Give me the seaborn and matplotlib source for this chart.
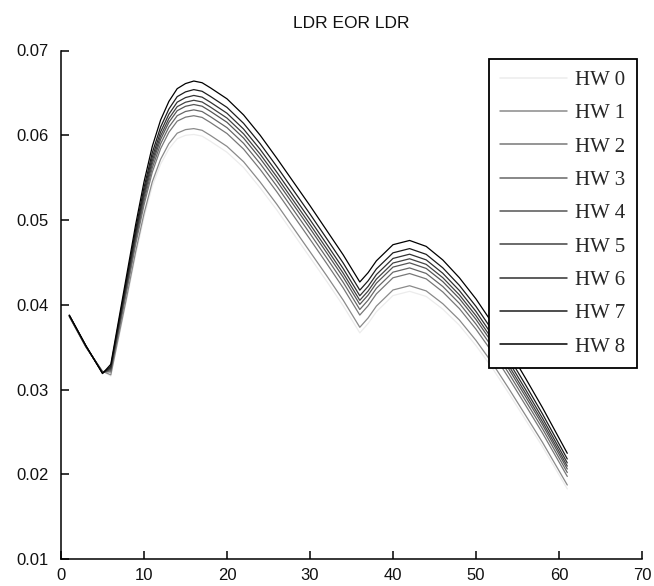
import matplotlib
matplotlib.use("Agg")
import matplotlib.pyplot as plt
import seaborn as sns
import pandas as pd

x_vals = [1, 3, 5, 6, 7, 8, 9, 10, 11, 12, 13, 14, 15, 16, 17, 18, 20, 22, 24, 26, 28, 30,
          32, 34, 36, 37, 38, 40, 42, 44, 46, 48, 50, 52, 54, 56, 58, 61]

hw0 = [0.0386, 0.0350, 0.0322, 0.0316, 0.0363, 0.0410, 0.0459, 0.0503, 0.0540, 0.0566,
       0.0584, 0.0596, 0.0600, 0.0601, 0.0599, 0.0593, 0.0580, 0.0562, 0.0538, 0.0512, 0.0484, 0.0456,
       0.0428, 0.0399, 0.0367, 0.0378, 0.0392, 0.0411, 0.0416, 0.0410, 0.0395, 0.0376,
       0.0352, 0.0325, 0.0295, 0.0264, 0.0233, 0.0183]
hw1 = [0.03862, 0.03502, 0.03217, 0.03175, 0.03654, 0.04133, 0.04630, 0.05076, 0.05452, 0.05717,
       0.05902, 0.06025, 0.06067, 0.06079, 0.06059, 0.05999, 0.05869, 0.05688, 0.05448, 0.05187, 0.04907, 0.04627,
       0.04346, 0.04056, 0.03736, 0.03846, 0.03986, 0.04176, 0.04226, 0.04165, 0.04014, 0.03822,
       0.03581, 0.03308, 0.03006, 0.02694, 0.02381, 0.01876]
hw2 = [0.03867, 0.03507, 0.03210, 0.03209, 0.03707, 0.04205, 0.04716, 0.05177, 0.05565, 0.05842,
       0.06036, 0.06167, 0.06214, 0.06231, 0.06211, 0.06151, 0.06021, 0.05837, 0.05597, 0.05334, 0.05054, 0.04774,
       0.04490, 0.04200, 0.03880, 0.03990, 0.04130, 0.04320, 0.04370, 0.04307, 0.04153, 0.03956,
       0.03713, 0.03436, 0.03129, 0.02812, 0.02491, 0.01977]
hw3 = [0.03869, 0.03509, 0.03206, 0.03224, 0.03731, 0.04238, 0.04756, 0.05223, 0.05616, 0.05899,
       0.06098, 0.06231, 0.06281, 0.06300, 0.06280, 0.06220, 0.06090, 0.05905, 0.05665, 0.05401, 0.05121, 0.04841,
       0.04556, 0.04266, 0.03946, 0.04056, 0.04196, 0.04386, 0.04436, 0.04371, 0.04217, 0.04018,
       0.03773, 0.03494, 0.03185, 0.02865, 0.02542, 0.02023]
hw4 = [0.03871, 0.03511, 0.03203, 0.03238, 0.03753, 0.04268, 0.04792, 0.05265, 0.05663, 0.05951,
       0.06154, 0.06290, 0.06342, 0.06363, 0.06343, 0.06283, 0.06153, 0.05967, 0.05727, 0.05462, 0.05182, 0.04902,
       0.04616, 0.04326, 0.04006, 0.04116, 0.04256, 0.04446, 0.04496, 0.04430, 0.04275, 0.04074,
       0.03828, 0.03547, 0.03236, 0.02914, 0.02588, 0.02065]
hw5 = [0.03873, 0.03513, 0.03201, 0.03250, 0.03771, 0.04292, 0.04820, 0.05299, 0.05701, 0.05993,
       0.06198, 0.06338, 0.06390, 0.06413, 0.06393, 0.06333, 0.06203, 0.06017, 0.05777, 0.05510, 0.05230, 0.04950,
       0.04664, 0.04374, 0.04054, 0.04164, 0.04304, 0.04494, 0.04544, 0.04478, 0.04321, 0.04118,
       0.03872, 0.03589, 0.03276, 0.02954, 0.02624, 0.02099]
hw6 = [0.03875, 0.03515, 0.03198, 0.03262, 0.03791, 0.04319, 0.04853, 0.05337, 0.05743, 0.06040,
       0.06249, 0.06391, 0.06445, 0.06470, 0.06450, 0.06390, 0.06260, 0.06073, 0.05833, 0.05565, 0.05285, 0.05005,
       0.04718, 0.04428, 0.04108, 0.04218, 0.04358, 0.04548, 0.04598, 0.04531, 0.04373, 0.04169,
       0.03922, 0.03637, 0.03322, 0.02998, 0.02666, 0.02137]
hw7 = [0.03877, 0.03517, 0.03195, 0.03278, 0.03815, 0.04352, 0.04892, 0.05383, 0.05795, 0.06097,
       0.06310, 0.06456, 0.06512, 0.06539, 0.06519, 0.06459, 0.06329, 0.06141, 0.05901, 0.05632, 0.05352, 0.05072,
       0.04784, 0.04494, 0.04174, 0.04284, 0.04424, 0.04614, 0.04664, 0.04596, 0.04437, 0.04230,
       0.03982, 0.03695, 0.03378, 0.03052, 0.02716, 0.02183]
hw8 = [0.0388, 0.0352, 0.0319, 0.0330, 0.0385, 0.0440, 0.0495, 0.0545, 0.0587, 0.0618,
       0.0640, 0.0655, 0.0661, 0.0664, 0.0662, 0.0656, 0.0643, 0.0624, 0.0600, 0.0573, 0.0545, 0.0517,
       0.0488, 0.0459, 0.0427, 0.0438, 0.0452, 0.0471, 0.0476, 0.0469, 0.0453, 0.0432,
       0.0407, 0.0378, 0.0346, 0.0313, 0.0279, 0.0225]

series_names = ["HW 0", "HW 1", "HW 2", "HW 3", "HW 4", "HW 5", "HW 6", "HW 7", "HW 8"]
series_values = [hw0, hw1, hw2, hw3, hw4, hw5, hw6, hw7, hw8]
line_colors = ["#ececec", "#8a8a8a", "#787878", "#676767", "#555555",
               "#424242", "#303030", "#1c1c1c", "#000000"]

x_ticks = [0, 10, 20, 30, 40, 50, 60, 70]
y_ticks = [0.01, 0.02, 0.03, 0.04, 0.05, 0.06, 0.07]
title_text = "LDR EOR LDR"

rows = []
for name, vals in zip(series_names, series_values):
    for xv, yv in zip(x_vals, vals):
        rows.append({"x": xv, "y": yv, "series": name})
df = pd.DataFrame(rows)

sns.set_theme(style="ticks")
plt.rcParams["font.family"] = ["Liberation Sans", "DejaVu Sans"]

L, R, T, B = 61, 642, 50.5, 559.3
fig = plt.figure(figsize=(6.54, 5.86), dpi=100)
ax = fig.add_axes([L / 654, 1 - B / 586, (R - L) / 654, (B - T) / 586])

sns.lineplot(data=df, x="x", y="y", hue="series", hue_order=series_names,
             palette=dict(zip(series_names, line_colors)), estimator=None,
             sort=False, linewidth=0.9, legend=False, ax=ax)

ax.set_xlim(0, 70)
ax.set_ylim(0.01, 0.07)
ax.set_xticks(x_ticks)
ax.set_yticks(y_ticks)
ax.set_xticklabels([str(t) for t in x_ticks])
ax.set_yticklabels([f"{t:.2f}" for t in y_ticks])
ax.set_xlabel("")
ax.set_ylabel("")
ax.set_title(title_text, fontsize=12.5, pad=16, color="#111111")

for s in ["top", "right"]:
    ax.spines[s].set_visible(False)
for s in ["left", "bottom"]:
    ax.spines[s].set_color("black")
    ax.spines[s].set_linewidth(1.1)

ax.tick_params(axis="both", direction="in", length=5.5, width=1.1, colors="black",
               labelsize=12, labelcolor="#111111")
ax.tick_params(axis="x", pad=6)
ax.tick_params(axis="y", pad=9)

handles = ax.get_lines()[:len(series_names)]
leg = ax.legend(handles, series_names, loc="upper right",
                bbox_to_anchor=((637 - L) / (R - L), 1 - (59 - T) / (B - T)),
                borderaxespad=0, frameon=True, fancybox=False, shadow=False,
                framealpha=1, edgecolor="black",
                prop={"family": "Liberation Serif", "size": 15},
                handlelength=3.2, handletextpad=0.4, labelspacing=0.66,
                borderpad=0.55)
leg.get_frame().set_linewidth(1.3)
for h in leg.get_lines():
    h.set_linewidth(1.1)

fig.savefig("out.png", dpi=100, facecolor="white")
